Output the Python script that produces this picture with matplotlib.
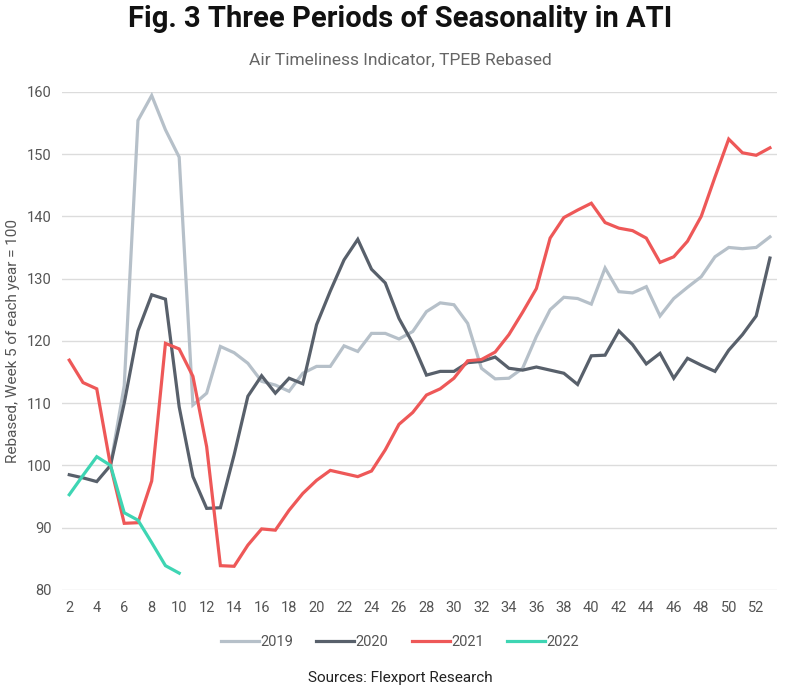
import numpy as np
import matplotlib
matplotlib.use("Agg")
import matplotlib.pyplot as plt

plt.rcParams['font.family'] = ['Roboto', 'DejaVu Sans']

weeks = list(range(2, 54))

ati_2019 = [np.nan, np.nan, np.nan, 100.0, 112.8, 155.4, 159.4, 153.9, 149.5, 109.7,
            111.6, 119.1, 118.1, 116.4, 113.5, 112.9, 111.9, 114.8, 115.9, 115.9,
            119.2, 118.3, 121.2, 121.2, 120.3, 121.5, 124.7, 126.1, 125.8, 122.8,
            115.6, 113.9, 114.0, 115.6, 120.7, 125.0, 127.0, 126.8, 125.9, 131.7,
            127.9, 127.7, 128.7, 124.0, 126.8, 128.6, 130.3, 133.5, 135.0, 134.8,
            135.0, 136.7]
ati_2020 = [98.5, 98.0, 97.4, 100.0, 110.0, 121.6, 127.4, 126.7, 109.4, 98.2,
            93.1, 93.2, 101.7, 111.1, 114.4, 111.6, 114.0, 113.1, 122.6, 128.0,
            133.0, 136.3, 131.5, 129.3, 123.6, 119.6, 114.5, 115.1, 115.1, 116.5,
            116.7, 117.4, 115.6, 115.3, 115.8, 115.3, 114.8, 113.0, 117.6, 117.7,
            121.6, 119.4, 116.3, 118.0, 114.0, 117.2, 116.1, 115.1, 118.5, 121.0,
            124.0, 133.3]
ati_2021 = [116.9, 113.3, 112.3, 100.0, 90.7, 90.8, 97.5, 119.6, 118.7, 114.3,
            103.0, 83.9, 83.8, 87.2, 89.8, 89.6, 92.8, 95.5, 97.6, 99.2,
            98.7, 98.2, 99.1, 102.5, 106.6, 108.5, 111.3, 112.3, 114.0, 116.8,
            117.0, 118.2, 121.0, 124.6, 128.4, 136.5, 139.8, 141.0, 142.1, 139.0,
            138.1, 137.7, 136.5, 132.6, 133.5, 136.0, 140.0, 146.3, 152.4, 150.2,
            149.8, 151.0]
ati_2022 = [95.3, 98.4, 101.4, 100.0, 92.4, 91.2, 87.6, 83.9, 82.7]

series = [
    ("2019", ati_2019, "#B6C0C9"),
    ("2020", ati_2020, "#58606B"),
    ("2021", ati_2021, "#EE5858"),
    ("2022", ati_2022, "#3ED5B3"),
]

fig = plt.figure(figsize=(8, 6.9), dpi=100)
ax = fig.add_axes([0.078, 0.145, 0.893, 0.722])

for name, vals, color in series:
    ax.plot(weeks[:len(vals)], vals, color=color, lw=2.3, label=name,
            solid_joinstyle="miter")

ax.set_xlim(1.5, 53.5)
ax.set_ylim(80, 160)
ax.set_xticks(range(2, 53, 2))
ax.set_yticks(range(80, 161, 10))
ax.grid(axis="y", color="#DCDCDC", lw=1)
ax.set_axisbelow(True)
for s in ax.spines.values():
    s.set_visible(False)
ax.tick_params(length=0, labelsize=10.5, labelcolor="#555555", pad=8)
ax.set_ylabel("Rebased, Week 5 of each year = 100", fontsize=11, color="#555555", labelpad=5)

fig.text(0.5, 0.972, "Fig. 3 Three Periods of Seasonality in ATI", ha="center", va="center",
         fontsize=21, fontweight="bold", color="#111111")
fig.text(0.5, 0.913, "Air Timeliness Indicator, TPEB Rebased", ha="center", va="center",
         fontsize=12.5, color="#666666")

fig.legend(loc="center", bbox_to_anchor=(0.5, 0.07), ncol=4, frameon=False,
           fontsize=10.5, handlelength=2.6, handletextpad=0.1, columnspacing=1.6,
           labelcolor="#555555")
fig.text(0.5, 0.018, "Sources: Flexport Research", ha="center", va="center",
         fontsize=11, color="#222222")

fig.savefig("out.png", dpi=100)
